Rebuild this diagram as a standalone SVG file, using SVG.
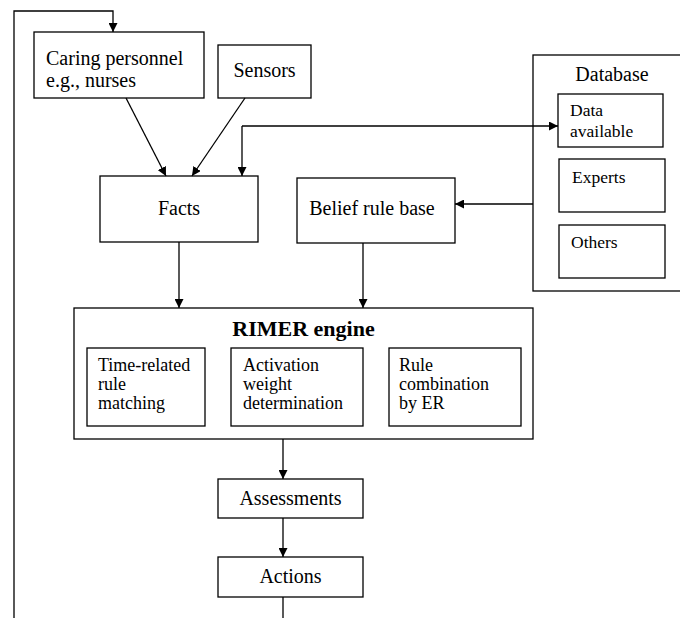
<svg xmlns="http://www.w3.org/2000/svg" width="680" height="618" viewBox="0 0 680 618">
<style>
.box{fill:#fff;stroke:#000;stroke-width:1.3}
.t{font-family:"Liberation Serif","Times New Roman",serif;font-size:20px;fill:#000}
.s{font-family:"Liberation Serif","Times New Roman",serif;font-size:18px;fill:#000}
.d{font-family:"Liberation Serif","Times New Roman",serif;font-size:17.5px;fill:#000}
.b{font-family:"Liberation Serif","Times New Roman",serif;font-size:22px;font-weight:bold;fill:#000}
.c{fill:none;stroke:#000;stroke-width:1.3}
</style>
<defs>
<marker id="ah" viewBox="0 0 10 10" refX="10" refY="5" markerWidth="9" markerHeight="9" markerUnits="userSpaceOnUse" orient="auto">
<path d="M0,0 L10,5 L0,10 z" fill="#000"/>
</marker>
</defs>
<rect width="680" height="618" fill="#fff"/>
<g id="caring">
<rect class="box" x="34" y="32" width="170" height="66"/>
<text class="t" x="46" y="65">Caring personnel</text>
<text class="t" x="46" y="87">e.g., nurses</text>
</g>
<g id="sensors">
<rect class="box" x="218" y="45" width="93" height="53"/>
<text class="t" x="264.5" y="77" text-anchor="middle">Sensors</text>
</g>
<g id="facts">
<rect class="box" x="100" y="176" width="158" height="66"/>
<text class="t" x="179" y="215" text-anchor="middle">Facts</text>
</g>
<g id="belief">
<rect class="box" x="297" y="178" width="158" height="65"/>
<text class="t" x="372" y="215" text-anchor="middle">Belief rule base</text>
</g>
<g id="database">
<rect class="box" x="533" y="55" width="160" height="236"/>
<text class="t" x="612" y="81" text-anchor="middle">Database</text>
</g>
<g id="data-available">
<rect class="box" x="558" y="94" width="105" height="53"/>
<text class="d" x="570" y="116">Data</text>
<text class="d" x="570" y="137">available</text>
</g>
<g id="experts">
<rect class="box" x="559" y="159" width="106" height="53"/>
<text class="d" x="572" y="183">Experts</text>
</g>
<g id="others">
<rect class="box" x="559" y="225" width="106" height="53"/>
<text class="d" x="571" y="248">Others</text>
</g>
<g id="rimer">
<rect class="box" x="74" y="308" width="459" height="131"/>
<text class="b" x="303.5" y="336" text-anchor="middle">RIMER engine</text>
</g>
<g id="time-related">
<rect class="box" x="87" y="348" width="118" height="78"/>
<text class="s" x="98" y="371">Time-related</text>
<text class="s" x="98" y="390">rule</text>
<text class="s" x="98" y="409">matching</text>
</g>
<g id="activation">
<rect class="box" x="231" y="348" width="132" height="78"/>
<text class="s" x="243" y="371">Activation</text>
<text class="s" x="243" y="390">weight</text>
<text class="s" x="243" y="409">determination</text>
</g>
<g id="rule-combination">
<rect class="box" x="389" y="348" width="132" height="78"/>
<text class="s" x="399" y="371">Rule</text>
<text class="s" x="399" y="390">combination</text>
<text class="s" x="399" y="409">by ER</text>
</g>
<g id="assessments">
<rect class="box" x="218" y="479" width="145" height="39"/>
<text class="t" x="290.5" y="505" text-anchor="middle">Assessments</text>
</g>
<g id="actions">
<rect class="box" x="218" y="557" width="145" height="40"/>
<text class="t" x="290.5" y="583" text-anchor="middle">Actions</text>
</g>
<g id="connectors">
<path class="c" d="M14,618 L14,11 L113,11 L113,32" marker-end="url(#ah)"/>
<path class="c" d="M126,98 L166,176" marker-end="url(#ah)"/>
<path class="c" d="M245,98 L192,176" marker-end="url(#ah)"/>
<path class="c" d="M242,126 L558,126" marker-end="url(#ah)"/>
<path class="c" d="M242,126 L242,176" marker-end="url(#ah)"/>
<path class="c" d="M533,204 L455,204" marker-end="url(#ah)"/>
<path class="c" d="M179,242 L179,308" marker-end="url(#ah)"/>
<path class="c" d="M363,243 L363,308" marker-end="url(#ah)"/>
<path class="c" d="M283,439 L283,479" marker-end="url(#ah)"/>
<path class="c" d="M283,518 L283,557" marker-end="url(#ah)"/>
<path class="c" d="M283,597 L283,618"/>
</g>
</svg>
